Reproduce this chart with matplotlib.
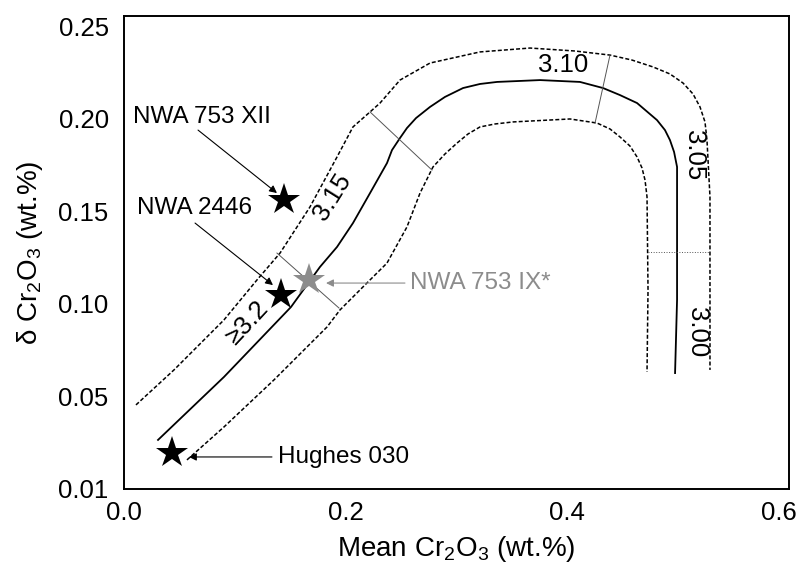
import matplotlib
matplotlib.use("Agg")
import matplotlib.pyplot as plt
from matplotlib.transforms import ScaledTranslation

plt.rcParams['font.family'] = ['Liberation Sans', 'DejaVu Sans']
plt.rcParams['mathtext.default'] = 'regular'

# Central isopleth (solid)
solid_x = [0.0307, 0.0902, 0.1507, 0.1768, 0.1922, 0.2066, 0.2220, 0.2373, 0.2418,
           0.2490, 0.2553, 0.2635, 0.2761, 0.2896, 0.3059, 0.3212, 0.3366, 0.3754,
           0.4114, 0.4322, 0.4475, 0.4629, 0.4809, 0.4881, 0.4926, 0.4963, 0.4990,
           0.4990, 0.4990, 0.4972]
solid_y = [0.0265, 0.0605, 0.0983, 0.1199, 0.1307, 0.1436, 0.1598, 0.1760, 0.1830,
           0.1895, 0.1949, 0.2003, 0.2063, 0.2117, 0.2165, 0.2187, 0.2198, 0.2208,
           0.2198, 0.2165, 0.2127, 0.2084, 0.1992, 0.1938, 0.1884, 0.1820, 0.1739,
           0.1577, 0.1021, 0.0626]

# Upper / outer boundary (dashed)
outer_x = [0.0108, 0.0451, 0.0902, 0.1200, 0.1408, 0.1678, 0.1922, 0.2066, 0.2220,
           0.2310, 0.2490, 0.2761, 0.3212, 0.3663, 0.4069, 0.4385, 0.4584, 0.4773,
           0.4926, 0.5044, 0.5134, 0.5197, 0.5242, 0.5260, 0.5287, 0.5287]
outer_y = [0.0454, 0.0643, 0.0913, 0.1129, 0.1274, 0.1523, 0.1793, 0.1955, 0.2036,
           0.2084, 0.2208, 0.2300, 0.2360, 0.2381, 0.2365, 0.2343, 0.2316, 0.2279,
           0.2241, 0.2192, 0.2133, 0.2063, 0.1982, 0.1884, 0.1577, 0.0643]

# Lower / inner boundary (dashed)
inner_x = [0.0568, 0.0902, 0.1353, 0.1832, 0.1949, 0.2156, 0.2373, 0.2553, 0.2671,
           0.2788, 0.2896, 0.3005, 0.3104, 0.3212, 0.3348, 0.3510, 0.4024, 0.4268,
           0.4385, 0.4475, 0.4565, 0.4629, 0.4674, 0.4701, 0.4719, 0.4728, 0.4719]
inner_y = [0.0157, 0.0335, 0.0589, 0.0875, 0.0967, 0.1091, 0.1220, 0.1415, 0.1598,
           0.1739, 0.1809, 0.1868, 0.1917, 0.1955, 0.1971, 0.1982, 0.1998, 0.1976,
           0.1944, 0.1901, 0.1852, 0.1793, 0.1733, 0.1668, 0.1577, 0.1075, 0.0632]

# Tie lines across the band
ties = [
    ((0.1380, 0.1940), (0.1274, 0.0977), '-'),
    ((0.2220, 0.2779), (0.2036, 0.1722), '-'),
    ((0.4385, 0.4250), (0.2343, 0.1976), '-'),
    ((0.4728, 0.5287), (0.1280, 0.1280), ':'),
]

# Band labels
band_labels = ['\u22653.2', '3.15', '3.10', '3.05', '3.00']
band_label_x = [0.1111, 0.1877, 0.3961, 0.5140, 0.5170]
band_label_y = [0.0896, 0.1577, 0.2289, 0.1803, 0.0848]
band_label_rot = [47, 58, 0, -90, -90]

# Meteorites
samples = ['NWA 753 XII', 'NWA 2446', 'NWA 753 IX*', 'Hughes 030']
sample_x = [0.144, 0.142, 0.167, 0.043]
sample_y = [0.156, 0.105, 0.113, 0.0194]
sample_colors = ['black', 'black', '#8c8c8c', 'black']
label_x = [0.0081, 0.0117, 0.2580, 0.1390]
label_y = [0.2009, 0.1517, 0.1112, 0.0173]
arrow_start = [(0.0668, 0.1938), (0.0641, 0.1436), (0.2535, 0.1112), (0.1335, 0.0173)]
arrow_end = [(0.1380, 0.1598), (0.1344, 0.1101), (0.1823, 0.1112), (0.0586, 0.0173)]

x_ticks = [0.0, 0.2, 0.4, 0.6]
x_tick_labels = ['0.0', '0.2', '0.4', '0.6']
y_ticks = [0.0, 0.05, 0.10, 0.15, 0.20, 0.25]
y_tick_labels = ['0.01', '0.05', '0.10', '0.15', '0.20', '0.25']

fig = plt.figure(figsize=(8, 5.66), dpi=100)
ax = fig.add_axes([124 / 800, 1 - 489 / 566, (789 - 124) / 800, (489 - 16) / 566])

ax.plot(solid_x, solid_y, color='black', lw=1.3, solid_joinstyle='round')
ax.plot(outer_x, outer_y, color='black', lw=1.1, dashes=(2.6, 1.4))
ax.plot(inner_x, inner_y, color='black', lw=1.1, dashes=(2.6, 1.4))
for tx, ty, ls in ties:
    ax.plot(tx, ty, color='#555555', lw=0.7, linestyle=ls)

for lab, lx, ly, rot in zip(band_labels, band_label_x, band_label_y, band_label_rot):
    ax.text(lx, ly, lab, fontsize=18.5, rotation=rot, ha='center', va='center',
            rotation_mode='anchor')

for i, name in enumerate(samples):
    c = sample_colors[i]
    ax.annotate('', xy=arrow_end[i], xytext=arrow_start[i],
                arrowprops=dict(arrowstyle='-|>', color=c, lw=0.8,
                                mutation_scale=11, shrinkA=0, shrinkB=0))
    ax.plot(sample_x[i], sample_y[i], marker='*', ms=24, color=c,
            markeredgewidth=0, linestyle='none', zorder=5)
    ax.text(label_x[i], label_y[i], name, fontsize=17.5, color=c,
            ha='left', va='center')

ax.set_xlim(0, 0.6)
ax.set_ylim(0, 0.2554)
ax.set_xticks(x_ticks)
ax.set_xticklabels(x_tick_labels)
ax.set_yticks(y_ticks)
ax.set_yticklabels(y_tick_labels)
ax.tick_params(length=0, labelsize=18.5)
ax.tick_params(axis='y', pad=11)
ax.tick_params(axis='x', pad=9)
last = ax.get_xticklabels()[-1]
last.set_transform(last.get_transform() + ScaledTranslation(-10 / 100, 0, fig.dpi_scale_trans))
for s in ax.spines.values():
    s.set_linewidth(1.4)

ax.set_xlabel('Mean Cr$_2$O$_3$ (wt.%)', fontsize=20, labelpad=6)
ax.set_ylabel('\u03b4 Cr$_2$O$_3$ (wt.%)', fontsize=20, labelpad=10)

fig.savefig('out.png', dpi=100)
